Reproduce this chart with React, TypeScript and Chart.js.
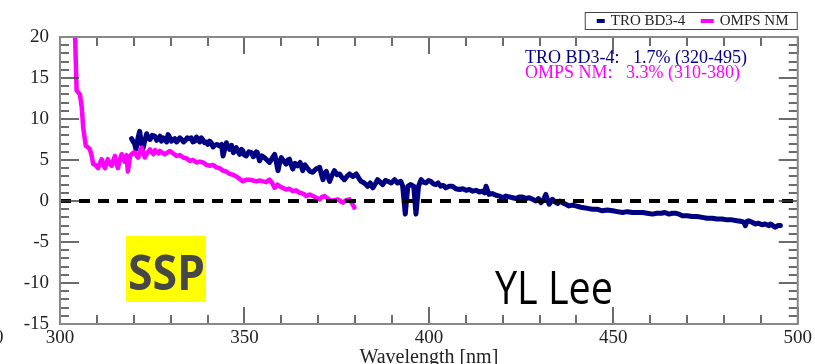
import React, { useEffect, useRef } from 'react';
import { Chart, registerables } from 'chart.js';

Chart.register(...registerables);

// TRO BD3-4 bias (%) against wavelength (nm)
const troWavelength = [
  319.4, 319.9, 320.2, 320.6, 321.2, 321.6, 322.0, 322.5, 323.0, 323.5, 324.0, 324.4, 325.0, 325.7,
  326.2, 326.6, 327.1, 327.5, 328.0, 328.4, 328.9, 329.3, 329.8, 330.2, 330.7, 331.1, 331.6, 332.0,
  332.5, 333.0, 333.5, 334.0, 334.5, 335.0, 335.6, 336.0, 336.5, 337.0, 337.4, 337.9, 338.3, 338.8,
  339.2, 339.7, 340.1, 340.6, 341.0, 341.5, 342.0, 342.5, 343.3, 343.8, 344.2, 344.7, 345.1, 345.6,
  346.0, 346.5, 347.0, 347.4, 347.8, 348.3, 348.7, 349.2, 349.6, 350.0, 350.5, 351.2, 351.9, 352.4,
  352.8, 353.2, 353.5, 354.1, 354.7, 355.4, 356.1, 356.8, 357.5, 358.2, 358.7, 359.1, 359.6, 360.0,
  360.6, 361.3, 361.8, 362.2, 362.7, 363.1, 363.7, 364.4, 365.1, 365.8, 366.4, 367.1, 367.8, 368.5,
  369.4, 370.4, 370.9, 371.3, 371.7, 372.2, 372.6, 373.1, 373.7, 374.4, 375.1, 375.8, 376.4, 377.1,
  377.8, 378.5, 379.4, 380.3, 381.0, 381.6, 382.5, 383.4, 384.1, 384.8, 385.5, 386.1, 386.8, 387.5,
  388.2, 388.9, 389.8, 390.7, 391.5, 392.4, 392.9, 393.6, 394.3, 395.0, 395.9, 396.5, 397.2, 397.9,
  398.5, 399.2, 399.9, 400.5, 401.2, 401.9, 402.5, 403.2, 403.9, 404.6, 405.5, 406.4, 407.3, 408.3,
  409.2, 410.1, 411.0, 411.9, 412.8, 413.7, 414.6, 415.1, 415.5, 416.3, 417.2, 418.2, 419.1, 420.0,
  420.9, 421.8, 422.7, 423.6, 424.5, 425.4, 426.3, 427.2, 428.1, 429.0, 429.7, 430.4, 431.0, 431.7,
  432.6, 433.5, 434.2, 434.9, 435.5, 436.2, 437.1, 438.0, 438.9, 439.8, 440.7, 441.6, 443.0, 444.3,
  445.6, 447.0, 448.4, 449.8, 451.1, 452.5, 453.8, 455.2, 456.5, 457.9, 459.2, 460.6, 461.8, 463.0,
  464.0, 465.1, 466.0, 467.0, 467.8, 468.7, 470.0, 471.4, 472.7, 474.1, 475.4, 476.8, 478.1, 479.5,
  480.8, 482.2, 483.5, 484.9, 485.4, 485.8, 486.2, 486.7, 487.6, 488.5, 489.4, 490.3, 491.2, 492.2,
  492.6, 493.0, 493.5, 493.9, 494.6, 495.3,
];
const troBias = [
  7.6, 7.2, 7.0, 6.3, 7.8, 8.5, 7.2, 6.4, 7.4, 8.2, 7.6, 7.5, 8.0, 7.9,
  7.4, 7.6, 7.9, 7.3, 7.7, 7.6, 7.2, 8.1, 7.7, 7.3, 7.5, 7.6, 7.2, 7.4,
  7.7, 7.5, 7.2, 7.4, 7.7, 7.6, 7.7, 7.2, 7.3, 7.8, 7.5, 7.2, 7.7, 7.4,
  7.1, 7.2, 6.9, 7.3, 7.1, 6.6, 6.8, 6.9, 6.7, 6.9, 5.5, 6.4, 7.1, 6.6,
  6.3, 6.8, 5.9, 6.2, 6.5, 6.0, 5.7, 6.3, 6.1, 5.6, 5.5, 6.0, 5.9, 5.4,
  5.6, 6.0, 5.9, 4.9, 5.5, 5.3, 5.0, 4.7, 5.2, 5.7, 4.6, 3.7, 4.8, 5.3,
  4.9, 4.5, 5.0, 5.1, 4.4, 3.9, 4.6, 4.3, 4.7, 3.7, 4.4, 4.0, 3.6, 3.5,
  3.9, 4.1, 3.2, 2.6, 3.4, 3.6, 3.0, 2.4, 3.1, 3.7, 3.2, 3.3, 2.9, 2.6,
  3.0, 3.3, 3.0, 3.3, 2.8, 2.4, 2.2, 1.8, 2.2, 1.6, 2.1, 2.6, 2.3, 2.0,
  2.5, 2.4, 2.2, 2.6, 2.2, 2.4, 1.8, -1.6, 1.8, 2.0, 1.8, -1.6, 1.8, 2.6,
  2.3, 2.2, 2.5, 2.4, 2.1, 2.0, 2.2, 1.8, 1.9, 1.6, 1.8, 1.8, 1.5, 1.4,
  1.5, 1.3, 1.4, 1.2, 1.3, 1.1, 1.2, 1.0, 1.8, 0.8, 0.9, 0.7, 0.6, 0.4,
  0.6, 0.5, 0.4, 0.3, 0.5, 0.5, 0.3, 0.4, 0.2, 0.0, 0.3, -0.2, 0.1, 0.8,
  -0.4, 0.2, -0.1, -0.3, 0.0, -0.2, -0.4, -0.6, -0.5, -0.6, -0.7, -0.8, -0.9, -1.0,
  -1.0, -1.2, -1.1, -1.2, -1.3, -1.4, -1.3, -1.4, -1.4, -1.4, -1.5, -1.6, -1.5, -1.5,
  -1.4, -1.6, -1.5, -1.5, -1.6, -1.8, -1.8, -1.9, -1.9, -2.0, -2.1, -2.1, -2.2, -2.2,
  -2.3, -2.3, -2.4, -2.5, -2.6, -3.0, -2.5, -2.4, -2.6, -2.8, -2.7, -2.9, -2.8, -3.0,
  -2.8, -2.9, -3.1, -3.2, -3.0, -3.0,
];

// OMPS NM bias (%) against wavelength (nm)
const ompsWavelength = [
  303.5, 304.1, 304.5, 305.0, 305.4, 305.9, 306.3, 307.0, 307.5, 308.1, 308.6, 309.0, 309.6, 310.3,
  310.8, 311.3, 311.7, 312.2, 312.6, 313.0, 313.5, 314.0, 314.4, 314.9, 315.3, 315.7, 316.2, 316.7,
  317.1, 317.5, 318.0, 318.4, 319.0, 319.4, 319.9, 320.3, 320.8, 321.2, 321.6, 322.1, 322.5, 323.0,
  323.7, 324.4, 324.8, 325.3, 325.8, 326.2, 326.7, 327.1, 327.7, 328.4, 329.1, 329.8, 330.7, 331.6,
  332.5, 333.4, 334.3, 335.2, 336.1, 337.0, 337.9, 338.8, 339.7, 340.6, 341.5, 342.4, 343.3, 344.2,
  345.1, 346.0, 346.9, 347.8, 348.7, 349.6, 350.5, 351.4, 352.3, 353.2, 354.1, 355.0, 355.9, 356.8,
  357.5, 358.2, 358.9, 359.5, 360.4, 361.3, 362.2, 363.1, 364.0, 365.0, 365.9, 366.8, 367.7, 368.6,
  369.5, 370.4, 371.0, 371.7, 372.6, 373.5, 374.4, 375.3, 376.0, 376.7, 377.6, 378.5, 379.2, 379.8,
];
const ompsBias = [
  30.0, 20.0, 13.5, 13.2, 13.0, 11.4, 8.9, 6.7, 6.6, 6.3, 5.5, 4.5, 4.4, 4.0,
  4.6, 5.1, 4.4, 4.0, 4.7, 5.1, 4.5, 4.3, 4.9, 5.5, 4.6, 4.0, 5.0, 5.7,
  5.1, 4.8, 5.6, 3.6, 5.5, 5.7, 5.9, 5.9, 5.5, 5.3, 5.9, 6.5, 6.0, 5.3,
  5.9, 6.3, 6.0, 5.7, 6.2, 6.0, 5.8, 6.1, 5.9, 5.7, 5.9, 6.1, 5.8, 5.5,
  5.6, 5.3, 5.2, 4.9, 5.0, 4.7, 4.8, 4.7, 4.4, 4.3, 4.4, 4.1, 4.0, 3.7,
  3.6, 3.3, 3.2, 3.0, 2.7, 2.4, 2.6, 2.6, 2.5, 2.4, 2.5, 2.4, 2.3, 2.6,
  2.2, 1.6, 2.0, 1.8, 1.6, 1.4, 1.5, 1.2, 1.3, 1.0, 0.9, 0.6, 0.8, 0.6,
  0.4, 0.2, 0.5, 0.6, 0.3, 0.0, 0.1, 0.2, 0.0, -0.2, 0.1, 0.2, -0.3, -0.8,
];

// zero reference line
const zeroLineX = [300, 500];
const zeroLineY = [0, 0];

const seriesNames = ['TRO BD3-4', 'OMPS NM'];
const seriesColors = ['#000080', '#ff00ff'];
const seriesStats = ['1.7% (320-495)', '3.3% (310-380)'];

const xRange = [300, 500];
const xMajorStep = 50;
const xMinorStep = 10;
const yRange = [-15, 20];
const yMajorStep = 5;
const yMinorStep = 1;
const xTitle = 'Wavelength [nm]';
const badgeText = 'SSP';
const authorText = 'YL Lee';

const serif = '"Liberation Serif", "Times New Roman", serif';
const sans = '"Open Sans", "Noto Sans", sans-serif';

function pairs(xs: number[], ys: number[]) {
  return xs.map((x, i) => ({ x, y: ys[i] }));
}

// text squeezed horizontally to a given width, centred on cx
function fittedText(ctx: CanvasRenderingContext2D, text: string, cx: number, baseline: number, width: number, font: string, color: string) {
  ctx.save();
  ctx.font = font;
  ctx.fillStyle = color;
  ctx.textAlign = 'center';
  ctx.textBaseline = 'alphabetic';
  const w = ctx.measureText(text).width;
  ctx.translate(cx, baseline);
  ctx.scale(width / w, 1);
  ctx.fillText(text, 0, 0);
  ctx.restore();
}

function segment(ctx: CanvasRenderingContext2D, x1: number, y1: number, x2: number, y2: number) {
  ctx.beginPath();
  ctx.moveTo(x1, y1);
  ctx.lineTo(x2, y2);
  ctx.stroke();
}

const decorPlugin = {
  id: 'decor',
  afterDraw(chart: any) {
    const ctx: CanvasRenderingContext2D = chart.ctx;
    const a = chart.chartArea;
    const xs = chart.scales.x;
    const ys = chart.scales.y;
    ctx.save();
    ctx.setLineDash([]);

    // inward tick marks on all four sides
    ctx.strokeStyle = '#3a3a3a';
    ctx.lineWidth = 1.5;
    const nx = Math.round((xRange[1] - xRange[0]) / xMinorStep);
    for (let i = 0; i <= nx; i++) {
      const v = xRange[0] + i * xMinorStep;
      const px = Math.round(xs.getPixelForValue(v));
      const len = (v - xRange[0]) % xMajorStep === 0 ? 17 : 9;
      segment(ctx, px, a.bottom, px, a.bottom - len);
      segment(ctx, px, a.top, px, a.top + len);
    }
    const ny = Math.round((yRange[1] - yRange[0]) / yMinorStep);
    for (let i = 0; i <= ny; i++) {
      const v = yRange[0] + i * yMinorStep;
      const py = Math.round(ys.getPixelForValue(v));
      const len = (v - yRange[0]) % yMajorStep === 0 ? 19 : 9;
      segment(ctx, a.left, py, a.left + len, py);
      segment(ctx, a.right, py, a.right - len, py);
    }

    // frame
    ctx.strokeStyle = '#888';
    ctx.lineWidth = 2;
    ctx.strokeRect(a.left, a.top, a.right - a.left, a.bottom - a.top);

    // legend box
    const lx = a.right - 213;
    const ly = 12;
    ctx.strokeStyle = '#444';
    ctx.lineWidth = 1;
    ctx.strokeRect(lx + 0.5, ly + 0.5, 212, 17);
    ctx.font = `15px ${serif}`;
    ctx.textBaseline = 'middle';
    ctx.textAlign = 'left';
    const offsets = [12, 116];
    seriesNames.forEach((name, i) => {
      const ox = lx + offsets[i];
      ctx.strokeStyle = seriesColors[i];
      ctx.lineWidth = 4;
      segment(ctx, ox, ly + 9, ox + (i === 0 ? 8 : 13), ly + 9);
      ctx.fillStyle = '#222';
      ctx.fillText(name, ox + (i === 0 ? 14 : 19), ly + 9.5);
    });

    // statistics
    ctx.font = `18px ${serif}`;
    ctx.textBaseline = 'alphabetic';
    seriesNames.forEach((name, i) => {
      ctx.fillStyle = seriesColors[i];
      ctx.fillText(`${name}:   ${seriesStats[i]}`, 525, 63 + i * 15);
    });

    // stray label fragment at the lower left edge
    ctx.fillStyle = '#222';
    ctx.font = `19px ${serif}`;
    ctx.textBaseline = 'middle';
    ctx.fillText('0', -6, 338);

    // badge and author
    ctx.fillStyle = '#ffff00';
    ctx.fillRect(126, 236, 80, 66);
    fittedText(ctx, badgeText, 166.5, 290, 77, `bold 48px ${sans}`, '#474747');
    fittedText(ctx, authorText, 554, 304, 118, `46px ${sans}`, '#000');

    ctx.restore();
  },
};

export default function App() {
  const ref = useRef<HTMLCanvasElement>(null);

  useEffect(() => {
    if (!ref.current) return;
    const chart = new Chart(ref.current, {
      type: 'line',
      data: {
        datasets: [
          {
            label: 'zero',
            data: pairs(zeroLineX, zeroLineY),
            borderColor: '#000',
            borderWidth: 4,
            borderDash: [11, 8],
            borderCapStyle: 'butt',
            pointRadius: 0,
            order: 0,
          },
          {
            label: seriesNames[1],
            data: pairs(ompsWavelength, ompsBias),
            borderColor: seriesColors[1],
            borderWidth: 4.5,
            borderJoinStyle: 'round',
            borderCapStyle: 'round',
            pointRadius: 0,
            tension: 0,
            order: 1,
          },
          {
            label: seriesNames[0],
            data: pairs(troWavelength, troBias),
            borderColor: seriesColors[0],
            borderWidth: 5,
            borderJoinStyle: 'round',
            borderCapStyle: 'round',
            pointRadius: 0,
            tension: 0,
            order: 2,
          },
        ],
      },
      options: {
        responsive: false,
        animation: false,
        devicePixelRatio: 1,
        layout: { padding: { top: 37, right: 16, left: 0, bottom: 0 } },
        plugins: {
          legend: { display: false },
          tooltip: { enabled: false },
        },
        scales: {
          x: {
            type: 'linear',
            min: xRange[0],
            max: xRange[1],
            grid: { display: false, drawTicks: false },
            border: { display: false },
            ticks: {
              stepSize: xMajorStep,
              autoSkip: false,
              padding: 3,
              color: '#222',
              font: { family: serif, size: 19 },
            },
            title: {
              display: true,
              text: xTitle,
              color: '#222',
              font: { family: serif, size: 20 },
              padding: { top: 0, bottom: -6 },
            },
            afterFit: (s: any) => {
              s.height = 40;
            },
          },
          y: {
            type: 'linear',
            min: yRange[0],
            max: yRange[1],
            grid: { display: false, drawTicks: false },
            border: { display: false },
            ticks: {
              stepSize: yMajorStep,
              autoSkip: false,
              padding: 11,
              color: '#222',
              font: { family: serif, size: 19 },
            },
            afterFit: (s: any) => {
              s.width = 60;
            },
          },
        },
      },
      plugins: [decorPlugin],
    });
    return () => chart.destroy();
  }, []);

  return (
    <div style={{ position: 'absolute', left: 0, top: 0, width: 815, height: 364, background: '#fff' }}>
      <canvas ref={ref} width={815} height={364} style={{ display: 'block' }} />
    </div>
  );
}
